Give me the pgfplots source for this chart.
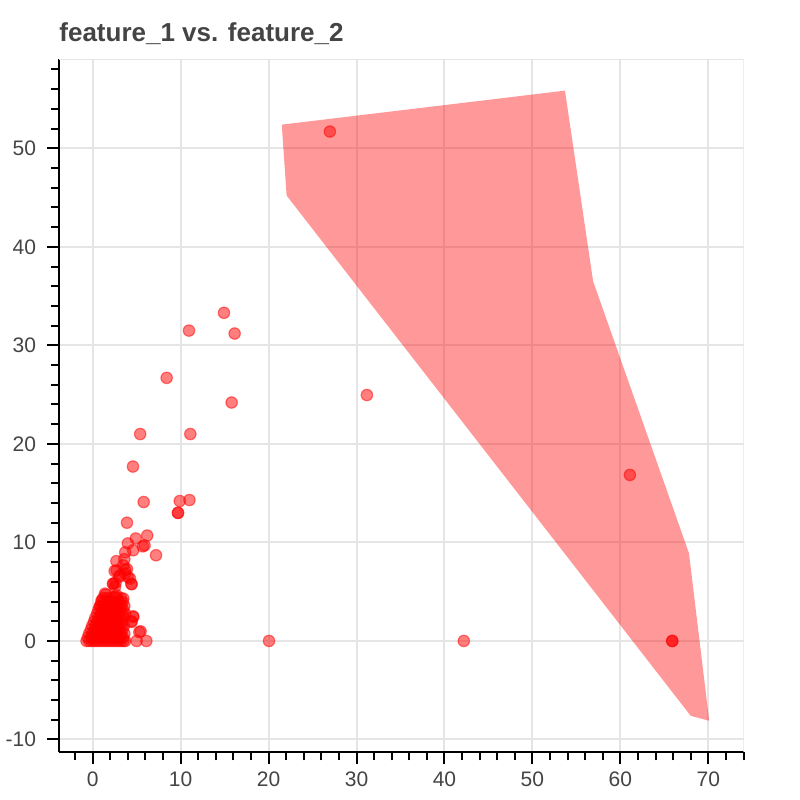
\documentclass[border=0pt]{standalone}
\usepackage{pgfplots}
\pgfplotsset{compat=1.18}
\usepackage{fontspec}
\setmainfont{Liberation Sans}
\definecolor{txt}{HTML}{444444}
\definecolor{gridc}{HTML}{E5E5E5}

\begin{document}
\begin{tikzpicture}
\useasboundingbox (0,0) rectangle (400pt,400pt);
\begin{axis}[
    at={(29.5pt,23.85pt)}, anchor=south west,
    scale only axis, width=342.25pt, height=346.65pt,
    xmin=-3.83, xmax=74, ymin=-11.3, ymax=59.06,
    axis lines=left,
    axis line style={-, line width=1pt, black},
    xtick={0,10,...,70}, ytick={-10,0,...,50},
    minor xtick={-2,0,...,74}, minor ytick={-10,-8,...,58},
    tick align=outside,
    major tick length=6pt, minor tick length=4pt,
    tick style={black, line width=1pt},
    grid=major,
    major grid style={gridc, line width=1pt},
    ticklabel style={font=\fontsize{10.5}{12}\selectfont, text=txt},
    /pgf/number format/assume math mode=true,
    yticklabel style={xshift=-2pt},
    title={feature\_1 vs. feature\_2},
    every axis title/.style={at={(0,1)}, anchor=base west, yshift=9pt,
        inner sep=0pt, font=\fontsize{13}{15}\selectfont\bfseries, text=txt},
    clip=true,
]

% hull patch
\addplot[fill=red, fill opacity=0.4, draw=none] coordinates {
    (21.5,52.4) (53.7,55.85) (56.9,36.5) (67.8,8.9) (70.1,-8.1) (68.0,-7.6) (22.05,45.2)
} -- cycle;

% scatter points
\addplot[only marks, mark=*, mark size=2.85pt,
    mark options={fill=red, draw=red, fill opacity=0.5, draw opacity=0.5, line width=0.6pt}]
coordinates {
    (26.97,51.7) (31.18,24.96) (61.08,16.85) (65.9,0) (65.9,0) (42.2,0) (20.05,0)
    (14.93,33.3) (10.95,31.5) (16.14,31.2) (8.41,26.7) (15.8,24.2) (11.1,21.0)
    (5.4,21.0) (4.58,17.7)
    (5.8,14.1) (9.9,14.2) (11.0,14.3) (9.7,13.0) (9.7,13.0) (3.9,12.0)
    (4.9,10.4) (6.2,10.7) (4.0,9.9) (5.7,9.6) (5.9,9.7) (4.6,9.2) (3.7,9.0)
    (7.2,8.7) (3.6,8.3) (2.7,8.1) (2.5,7.1) (3.7,7.2) (3.9,7.3) (4.0,6.5)
    (3.0,6.5) (2.3,5.8) (2.6,5.9) (4.4,5.8) (1.5,4.7) (2.5,4.5) (0.8,3.5)
    (4.6,2.5) (4.4,2.0) (5.3,0.9)
    (3.48,7.68) (2.73,7.17) (3.67,6.83) (3.1,6.66) (4.24,6.33) (2.35,5.82)
    (4.43,5.75) (2.54,5.48) (1.4,4.8) (2.73,4.63) (3.48,4.3) (1.02,4.13)
    (4.62,2.44) (4.43,1.93) (5.45,0.98)
    (3.7,0) (5.0,0) (6.1,0)
    (-0.7,0) (-0.4,0) (-0.1,0) (0.2,0) (0.5,0) (0.8,0) (1.1,0) (1.4,0) (1.7,0)
    (2.0,0) (2.3,0) (2.6,0) (2.9,0) (3.2,0) (3.5,0)
    (-0.55,0.35) (-0.15,0.35) (0.25,0.35) (0.65,0.35) (1.05,0.35) (1.45,0.35)
    (1.85,0.35) (2.25,0.35) (2.65,0.35) (3.05,0.35) (3.45,0.35)
    (-0.4,0.75) (0,0.75) (0.4,0.75) (0.8,0.75) (1.2,0.75) (1.6,0.75) (2.0,0.75)
    (2.4,0.75) (2.8,0.75) (3.2,0.75) (3.6,0.75)
    (-0.2,1.15) (0.2,1.15) (0.6,1.15) (1.0,1.15) (1.4,1.15) (1.8,1.15)
    (2.2,1.15) (2.6,1.15) (3.0,1.15) (3.4,1.15)
    (-0.05,1.55) (0.35,1.55) (0.75,1.55) (1.15,1.55) (1.55,1.55) (1.95,1.55)
    (2.35,1.55) (2.75,1.55) (3.15,1.55) (3.55,1.55)
    (0.15,1.95) (0.55,1.95) (0.95,1.95) (1.35,1.95) (1.75,1.95) (2.15,1.95)
    (2.55,1.95) (2.95,1.95) (3.35,1.95)
    (0.3,2.35) (0.7,2.35) (1.1,2.35) (1.5,2.35) (1.9,2.35) (2.3,2.35)
    (2.7,2.35) (3.1,2.35) (3.5,2.35)
    (0.5,2.75) (0.9,2.75) (1.3,2.75) (1.7,2.75) (2.1,2.75) (2.5,2.75)
    (2.9,2.75) (3.3,2.75) (3.7,2.75)
    (0.65,3.15) (1.05,3.15) (1.45,3.15) (1.85,3.15) (2.25,3.15) (2.65,3.15)
    (3.05,3.15) (3.45,3.15)
    (0.85,3.55) (1.25,3.55) (1.65,3.55) (2.05,3.55) (2.45,3.55) (2.85,3.55)
    (3.25,3.55) (3.6,3.55)
    (1.0,3.95) (1.4,3.95) (1.8,3.95) (2.2,3.95) (2.6,3.95) (3.0,3.95) (3.4,3.95)
    (1.2,4.35) (1.7,4.35) (2.2,4.35) (2.7,4.35) (3.2,4.35)
};

% light outline on top and right
\draw[gridc, line width=1pt] (rel axis cs:0,1) -- (rel axis cs:1,1) -- (rel axis cs:1,0);
\end{axis}
\end{tikzpicture}
\end{document}
